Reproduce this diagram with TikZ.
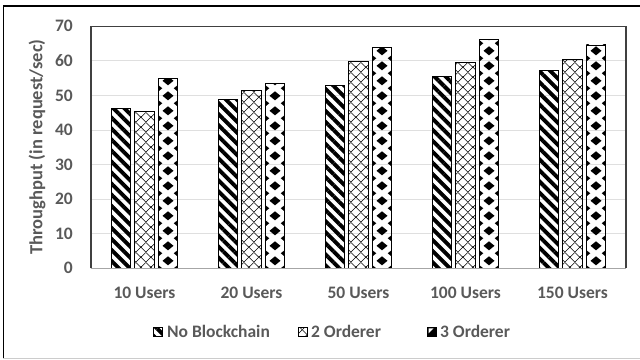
\documentclass[tikz,border=0pt]{standalone}
\usepackage{fontspec}
\setmainfont{Carlito}
\usetikzlibrary{patterns.meta, positioning}

\definecolor{labelgray}{HTML}{595959}

\tikzdeclarepattern{
  name=xhatch,
  type=uncolored,
  bounding box={(0pt,0pt) and (9.75pt,9.75pt)},
  tile size={(9.75pt,9.75pt)},
  code={\draw[line width=0.55pt] (0pt,0pt) -- (9.75pt,9.75pt) (0pt,9.75pt) -- (9.75pt,0pt);}
}

\begin{document}
\begin{tikzpicture}[x=1pt, y=1pt,
        txt/.style={font=\bfseries\fontsize{17.5}{18}\selectfont, text=labelgray, inner sep=0pt},
        grid/.style={gray!25, line width=0.8pt},
        barbox/.style={draw=black, line width=0.9pt},
        stripes/.style={pattern={Lines[angle=-45, distance=7.8pt, line width=3.9pt]}, pattern color=black},
        hatch/.style={pattern=xhatch, pattern color=black},
        swatch/.style={draw=black, line width=0.8pt, minimum size=9pt, inner sep=0pt}
    ]
        \useasboundingbox (-91,-90.7) rectangle (549,268.3);

        % Outer frame
        \draw[black, line width=1.2pt] (549,262.3) -- (-87.5,262.3) -- (-87.5,-89.7);
        \draw[gray!40, line width=1pt] (-87.5,-89.7) -- (549,-89.7);

        % Grid and y ticks
        \foreach \v in {0,10,...,70} {
            \draw[grid] (0,\v*3.457) -- (535,\v*3.457);
            \node[txt, anchor=east] (tick\v) at (-18,\v*3.457) {\v};
        }
        \node[txt, rotate=90, font=\bfseries\fontsize{18.5}{19}\selectfont] (ytitle) at (-54,121.3) {Throughput (in request/sec)};

        % Bars: group / No Blockchain / 2 Orderer / 3 Orderer / label
        \foreach \g/\a/\b/\c/\lab in {1/46.3/45.3/54.8/10 Users, 2/48.9/51.5/53.4/20 Users,
                3/52.9/59.9/63.8/50 Users, 4/55.6/59.5/66.2/100 Users, 5/57.1/60.5/64.6/150 Users} {
            \pgfmathsetmacro{\cx}{107*(\g-0.5)}
            \draw[barbox, stripes] (\cx-33.25,0) rectangle (\cx-13.75,\a*3.457);
            \draw[barbox, hatch] (\cx-9.75,0) rectangle (\cx+9.75,\b*3.457);
            % diamonds drawn by hand, so they sit on the bar
            \begin{scope}
                \clip (\cx+13.75,0) rectangle (\cx+33.25,\c*3.457);
                \foreach \k in {0,...,16} {
                    \fill (\cx+23.5,7.5+15*\k) +(-5.5,0) -- +(0,4.5) -- +(5.5,0) -- +(0,-4.5) -- cycle;
                    \fill (\cx+12.25,15*\k) +(-5.5,0) -- +(0,4.5) -- +(5.5,0) -- +(0,-4.5) -- cycle;
                    \fill (\cx+34.75,15*\k) +(-5.5,0) -- +(0,4.5) -- +(5.5,0) -- +(0,-4.5) -- cycle;
                }
            \end{scope}
            \draw[barbox] (\cx+13.75,0) rectangle (\cx+33.25,\c*3.457);
            \node[txt] (lab\g) at (\cx,-25) {\lab};
        }

        % Plot frame
        \draw[black!75, line width=1.3pt] (0,0) -- (0,242) -- (535,242) -- (535,0);
        \draw[gray!70, line width=1pt] (0,0) -- (535,0);

        % Legend
        \node[swatch, stripes] (key1) at (67,-63.4) {};
        \node[txt, right=4pt of key1] (leg1) {No Blockchain};
        \node[swatch, hatch] (key2) at (212,-63.4) {};
        \node[txt, right=3pt of key2] (leg2) {2 Orderer};
        \node[swatch, fill=black] (key3) at (341,-63.4) {};
        \fill[white] (key3.north west) ++(1.5,-1.5) -- ++(5,0) -- ++(-5,-5) -- cycle;
        \node[txt, right=3pt of key3] (leg3) {3 Orderer};
    \end{tikzpicture}
\end{document}
